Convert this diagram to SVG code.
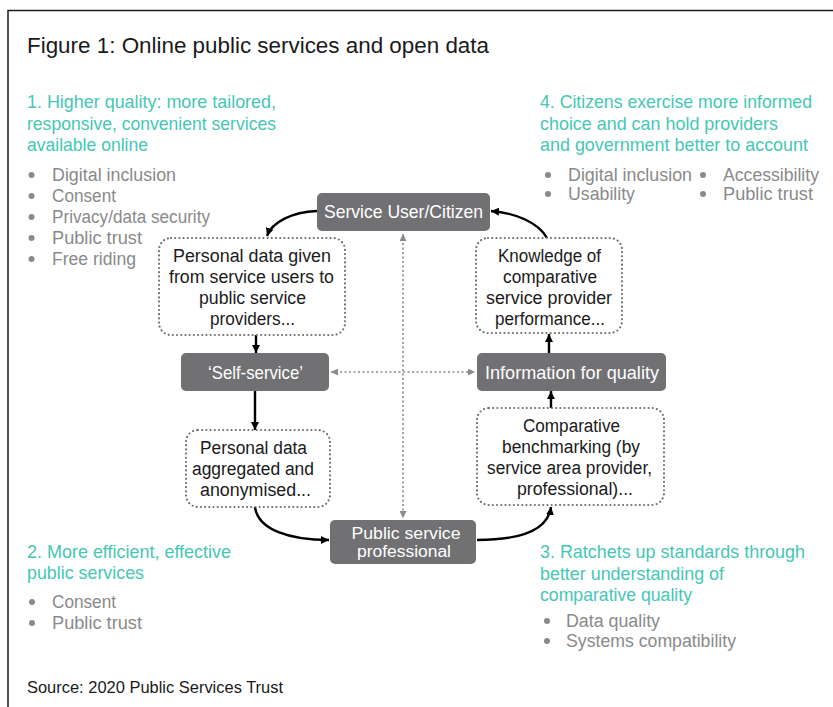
<svg xmlns="http://www.w3.org/2000/svg" width="833" height="707" viewBox="0 0 833 707">
<style>
text{font-family:"Liberation Sans",Arial,sans-serif;}
.title{font-size:22px;fill:#1a1a1a;}
.teal{font-size:19px;fill:#45c7b4;}
.grey{font-size:18px;fill:#8a8a8a;}
.src{font-size:17px;fill:#1a1a1a;}
.node rect{fill:#717174;}
.node text{font-size:18.5px;fill:#ffffff;text-anchor:middle;}
.node text.sm{font-size:16px;}
.box rect{fill:#ffffff;stroke:#6f6f6f;stroke-width:2.2;stroke-dasharray:0 4.2;stroke-linecap:round;}
.box text{font-size:18px;fill:#1a1a1a;text-anchor:middle;}
.dot{fill:#8a8a8a;}
.solid{fill:none;stroke:#000;stroke-width:2.4;}
.dotted{fill:none;stroke:#8a8a8a;stroke-width:1.6;stroke-dasharray:2 2.5;}
</style>
<defs>
<marker id="ah" viewBox="0 0 8 8" refX="8" refY="4" markerWidth="8" markerHeight="8" markerUnits="userSpaceOnUse" orient="auto">
<path d="M0,0 L8,4 L0,8 z" fill="#000"/>
</marker>
<marker id="ahg" viewBox="0 0 8 8" refX="8" refY="4" markerWidth="7" markerHeight="7" markerUnits="userSpaceOnUse" orient="auto-start-reverse">
<path d="M0,0 L8,4 L0,8 z" fill="#8a8a8a"/>
</marker>
</defs>
<rect width="833" height="707" fill="#ffffff"/>
<path d="M8,707 L8,10.5 L833,10.5" fill="none" stroke="#1a1a1a" stroke-width="1.5"/>

<text class="title" x="27" y="53" textLength="462" lengthAdjust="spacingAndGlyphs">Figure 1: Online public services and open data</text>

<g id="section1">
<text class="teal" x="27" y="108" textLength="249" lengthAdjust="spacingAndGlyphs">1. Higher quality: more tailored,</text>
<text class="teal" x="27" y="130" textLength="249" lengthAdjust="spacingAndGlyphs">responsive, convenient services</text>
<text class="teal" x="27" y="151" textLength="121" lengthAdjust="spacingAndGlyphs">available online</text>
<circle class="dot" cx="31.5" cy="175" r="3"/>
<text class="grey" x="52" y="181" textLength="124" lengthAdjust="spacingAndGlyphs">Digital inclusion</text>
<circle class="dot" cx="31.5" cy="196" r="3"/>
<text class="grey" x="52" y="202" textLength="64" lengthAdjust="spacingAndGlyphs">Consent</text>
<circle class="dot" cx="31.5" cy="217" r="3"/>
<text class="grey" x="52" y="223" textLength="158" lengthAdjust="spacingAndGlyphs">Privacy/data security</text>
<circle class="dot" cx="31.5" cy="238" r="3"/>
<text class="grey" x="52" y="244" textLength="90" lengthAdjust="spacingAndGlyphs">Public trust</text>
<circle class="dot" cx="31.5" cy="259" r="3"/>
<text class="grey" x="52" y="265" textLength="84" lengthAdjust="spacingAndGlyphs">Free riding</text>
</g>

<g id="section4">
<text class="teal" x="540" y="108" textLength="272" lengthAdjust="spacingAndGlyphs">4. Citizens exercise more informed</text>
<text class="teal" x="540" y="130" textLength="238" lengthAdjust="spacingAndGlyphs">choice and can hold providers</text>
<text class="teal" x="540" y="151" textLength="268" lengthAdjust="spacingAndGlyphs">and government better to account</text>
<circle class="dot" cx="548" cy="175" r="3"/>
<text class="grey" x="568" y="181" textLength="124" lengthAdjust="spacingAndGlyphs">Digital inclusion</text>
<circle class="dot" cx="703" cy="175" r="3"/>
<text class="grey" x="723" y="181" textLength="96" lengthAdjust="spacingAndGlyphs">Accessibility</text>
<circle class="dot" cx="548" cy="194" r="3"/>
<text class="grey" x="568" y="200" textLength="67" lengthAdjust="spacingAndGlyphs">Usability</text>
<circle class="dot" cx="703" cy="194" r="3"/>
<text class="grey" x="723" y="200" textLength="90" lengthAdjust="spacingAndGlyphs">Public trust</text>
</g>

<g id="section2">
<text class="teal" x="27" y="558" textLength="204" lengthAdjust="spacingAndGlyphs">2. More efficient, effective</text>
<text class="teal" x="27" y="579" textLength="117" lengthAdjust="spacingAndGlyphs">public services</text>
<circle class="dot" cx="32" cy="602" r="3"/>
<text class="grey" x="52" y="608" textLength="64" lengthAdjust="spacingAndGlyphs">Consent</text>
<circle class="dot" cx="32" cy="623" r="3"/>
<text class="grey" x="52" y="629" textLength="90" lengthAdjust="spacingAndGlyphs">Public trust</text>
</g>

<g id="section3">
<text class="teal" x="540" y="558" textLength="265" lengthAdjust="spacingAndGlyphs">3. Ratchets up standards through</text>
<text class="teal" x="540" y="580" textLength="184" lengthAdjust="spacingAndGlyphs">better understanding of</text>
<text class="teal" x="540" y="601" textLength="152" lengthAdjust="spacingAndGlyphs">comparative quality</text>
<circle class="dot" cx="547" cy="621" r="3"/>
<text class="grey" x="566" y="627" textLength="94" lengthAdjust="spacingAndGlyphs">Data quality</text>
<circle class="dot" cx="547" cy="641" r="3"/>
<text class="grey" x="566" y="647" textLength="170" lengthAdjust="spacingAndGlyphs">Systems compatibility</text>
</g>

<text class="src" x="27" y="693" textLength="256" lengthAdjust="spacingAndGlyphs">Source: 2020 Public Services Trust</text>

<g id="connectors">
<path class="solid" d="M317,211 C292,212 272,222 267,236" marker-end="url(#ah)"/>
<path class="solid" d="M256,335 L256,353" marker-end="url(#ah)"/>
<path class="solid" d="M255,391 L255,430" marker-end="url(#ah)"/>
<path class="solid" d="M255,507 C258,530 290,540 329,540" marker-end="url(#ah)"/>
<path class="solid" d="M477,540 C520,540 548,530 551,507" marker-end="url(#ah)"/>
<path class="solid" d="M551,408 L551,391" marker-end="url(#ah)"/>
<path class="solid" d="M549,353 L549,334" marker-end="url(#ah)"/>
<path class="solid" d="M547,238 C538,222 515,213 491,211" marker-end="url(#ah)"/>
<path class="dotted" d="M403,234 L403,518" marker-start="url(#ahg)" marker-end="url(#ahg)"/>
<path class="dotted" d="M331,372 L475,372" marker-start="url(#ahg)" marker-end="url(#ahg)"/>
</g>

<g id="citizen" class="node">
<rect x="317" y="193" width="173" height="38" rx="5"/>
<text x="403.5" y="218" textLength="159" lengthAdjust="spacingAndGlyphs">Service User/Citizen</text>
</g>
<g id="selfservice" class="node">
<rect x="181" y="353" width="148" height="38" rx="5"/>
<text x="255.5" y="379" textLength="95" lengthAdjust="spacingAndGlyphs">‘Self-service’</text>
</g>
<g id="infoquality" class="node">
<rect x="477" y="353" width="189" height="38" rx="5"/>
<text x="572" y="379" textLength="174" lengthAdjust="spacingAndGlyphs">Information for quality</text>
</g>
<g id="professional" class="node">
<rect x="330" y="520" width="146" height="44" rx="5"/>
<text class="sm" x="406" y="538.5" textLength="109" lengthAdjust="spacingAndGlyphs">Public service</text>
<text class="sm" x="404" y="556.5" textLength="94" lengthAdjust="spacingAndGlyphs">professional</text>
</g>

<g id="boxA" class="box">
<rect x="159" y="238" width="186" height="97" rx="12"/>
<text x="252" y="262" textLength="158" lengthAdjust="spacingAndGlyphs">Personal data given</text>
<text x="251.5" y="283" textLength="165" lengthAdjust="spacingAndGlyphs">from service users to</text>
<text x="252.5" y="304" textLength="107" lengthAdjust="spacingAndGlyphs">public service</text>
<text x="252.5" y="325" textLength="85" lengthAdjust="spacingAndGlyphs">providers...</text>
</g>
<g id="boxB" class="box">
<rect x="476" y="238" width="146" height="95" rx="12"/>
<text x="549.5" y="262" textLength="103" lengthAdjust="spacingAndGlyphs">Knowledge of</text>
<text x="550" y="283" textLength="94" lengthAdjust="spacingAndGlyphs">comparative</text>
<text x="549" y="304" textLength="126" lengthAdjust="spacingAndGlyphs">service provider</text>
<text x="550" y="325" textLength="110" lengthAdjust="spacingAndGlyphs">performance...</text>
</g>
<g id="boxC" class="box">
<rect x="186" y="430" width="144" height="77" rx="12"/>
<text x="253.5" y="454" textLength="107" lengthAdjust="spacingAndGlyphs">Personal data</text>
<text x="253" y="475" textLength="122" lengthAdjust="spacingAndGlyphs">aggregated and</text>
<text x="255.5" y="496" textLength="111" lengthAdjust="spacingAndGlyphs">anonymised...</text>
</g>
<g id="boxD" class="box">
<rect x="477" y="408" width="187" height="97" rx="12"/>
<text x="571.5" y="432" textLength="97" lengthAdjust="spacingAndGlyphs">Comparative</text>
<text x="571" y="453" textLength="138" lengthAdjust="spacingAndGlyphs">benchmarking (by</text>
<text x="569.5" y="474" textLength="165" lengthAdjust="spacingAndGlyphs">service area provider,</text>
<text x="575" y="495" textLength="116" lengthAdjust="spacingAndGlyphs">professional)...</text>
</g>
</svg>
